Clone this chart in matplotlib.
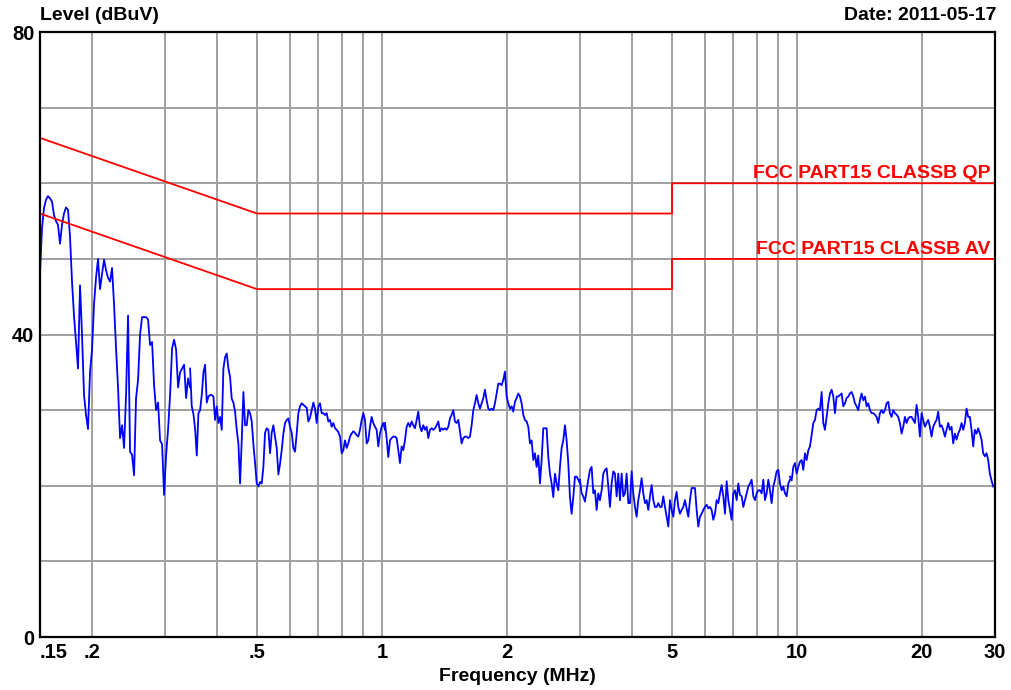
"""EMI conducted emission scan (0.15-30 MHz) against FCC Part 15 class B limits."""

import matplotlib

matplotlib.use("Agg")
import matplotlib.pyplot as plt
import numpy as np
from matplotlib.ticker import FixedLocator, NullFormatter, NullLocator

plt.rcParams["font.family"] = ["Liberation Sans", "DejaVu Sans"]
plt.rcParams["font.weight"] = "bold"

# sweep is stored as five chunks, each on its own log-spaced grid
seg_edges_mhz = [0.15, 0.345, 1.017, 3.0, 9.62, 29.7]

levels_a = [
    48, 54, 56.7, 57.8, 58.3, 58, 57.6, 55.8, 55, 54.5, 52, 54.5, 56, 56.8, 56.5, 53,
    47, 42.5, 39, 35.5, 46.5, 40, 32, 29.4, 27.5, 35, 38, 44, 47.5, 50, 46, 48,
    49.9, 48.5, 47.5, 47, 48.8, 44, 38.2, 33, 26.3, 28, 25, 32, 42.5, 24.5, 24.1, 21.4,
    31.6, 34, 40, 42.3, 42.3, 42.3, 42, 38.6, 39, 33.3, 30, 31, 26, 25.5, 18.8, 24,
    27.5, 32, 38.2, 39.3, 38, 33, 35, 35.5, 36, 31.6, 34.2, 33,
]

levels_b = [
    35.5, 30.5, 29.5, 27.5, 24, 29.6, 30, 32, 35, 36, 31, 31.8, 32, 32, 31.8, 28.7,
    30.5, 28.3, 29.1, 27.4, 35.5, 37, 37.5, 35.5, 34.4, 31.5, 31, 29.8, 27.4, 25.6, 20.3, 26,
    32.4, 28, 28, 30, 29.6, 28.5, 25.5, 23, 20.3, 19.9, 20.5, 20.3, 22.5, 27, 27.6, 27.4,
    24.3, 27, 28, 26.5, 25, 21.5, 22.9, 24.7, 26.9, 28.3, 28.7, 28.9, 27.8, 27, 25, 24.5,
    26.9, 29.6, 30.5, 30.9, 30.7, 30.5, 30.3, 28.5, 29, 30, 31, 30.2, 28.3, 30.5, 30.9, 29.6,
    29.6, 29.35, 29.6, 28.5, 28.7, 27.8, 28.3, 27.6, 27.4, 27.1, 26.5, 24.3, 24.7, 26, 25, 25.6,
    26.5, 26.9, 27.2, 27, 26.7, 26.5, 27.4, 28.7, 29.6, 28.7, 25.6, 26, 27.8, 29.1, 28.3, 27.8,
    27.4, 25.2, 26.9, 27.8, 28.3, 27.4,
]

levels_c = [
    28.3, 26.3, 23.8, 26, 26.3, 26.5, 26.5, 26.3, 24.7, 23, 25.2, 24.7, 26, 27.8, 28.3, 27.8,
    28.5, 28, 27.6, 28.7, 29.8, 27.8, 27.2, 28, 27.4, 27.8, 26.3, 27.4, 27.6, 27.4, 27.6, 28,
    28.5, 27.2, 27.6, 27.4, 27.6, 27.4, 27.8, 28.9, 29.4, 30, 28.5, 28.3, 28.7, 27.2, 25.6, 26.3,
    26.5, 26.5, 26.3, 26.5, 28, 30, 30.9, 32, 30.9, 30.2, 30.9, 31.6, 32.7, 31.3, 30.2, 30,
    30.2, 30, 30.9, 32.2, 33.5, 33.5, 33.3, 34, 35.1, 31.8, 30.9, 30.2, 30.5, 29.8, 31.1, 31.6,
    32.2, 31.8, 30.9, 29.4, 28.7, 28.5, 27.8, 25.6, 26, 23.4, 24.3, 22.5, 24, 20.3, 23.4, 27.6,
    27.6, 27.6, 23.8, 21.6, 20.3, 18.5, 21.6, 20.3, 19.4, 22.5, 25, 26, 28, 26, 23, 18.5,
    16.3, 18.5, 21.2, 21.2, 20.8, 20.3,
]

levels_d = [
    20.8, 19, 18.6, 17.9, 19.4, 20.8, 22.1, 22.5, 19, 19.4, 16.8, 19, 18.1, 19.4, 21.6, 22.1,
    22.3, 19.9, 17.2, 20.3, 21.9, 21.6, 18.6, 21.6, 18.1, 21.6, 18.6, 19, 21.6, 17.7, 17.7, 21.9,
    19, 17.2, 15.9, 18.1, 19.4, 21, 19, 17.7, 18.1, 16.8, 18.6, 20.1, 18.1, 17.2, 17.2, 17.7,
    17.2, 17.2, 18.6, 17.2, 15.9, 14.6, 18.1, 16.8, 15.9, 18.1, 19.2, 17.2, 16.3, 16.8, 17.2, 18.1,
    17, 15.9, 18.1, 19.7, 19.7, 19.7, 16.8, 14.6, 15.9, 16.3, 16.8, 17.2, 17.5, 17, 17.2, 16.8,
    15.5, 16.3, 18.1, 17.7, 19, 20.1, 18.6, 16.3, 20.6, 18.1, 16.8, 15.5, 19, 19.4, 18.1, 20.3,
    18.8, 18.6, 17.2, 18.1, 19, 19.9, 20.3, 20.8, 18.6, 18.1, 19, 19.4, 19.4, 19, 20.8, 18.1,
    19, 20.8, 19.4, 17.7, 19.9, 20.8, 21.9, 22.1, 20.3, 19.4, 19.9, 19, 18.6, 20.3, 20.8,
]

levels_e = [
    21.2, 20.7, 22.5, 23, 21.6, 22.5, 23.2, 23.4, 22.1, 24.3, 23.4, 24.7, 25.2, 26.7, 28.3, 28.7,
    30, 30.2, 30, 32.4, 28.3, 27.4, 29.1, 30.9, 32.2, 32.7, 31.8, 29.6, 31.8, 31.8, 32, 32.2,
    30.5, 30.9, 31.6, 31.8, 32.2, 32.4, 31.8, 30.9, 30.5, 30, 31.3, 32.2, 31.3, 31.8, 30.5, 30.9,
    30, 29.6, 29.6, 29.4, 29.1, 28.3, 29.6, 30, 29.6, 30, 30.9, 31.1, 29.6, 29.1, 30, 29.6,
    29.4, 29.1, 28.3, 26.9, 27.8, 29.1, 28.3, 28.9, 29.1, 29.1, 28.7, 28.3, 30.7, 29.1, 26.5, 29.6,
    28.7, 27.8, 28.3, 28.7, 27.8, 26.5, 27.8, 28.3, 28.7, 29.8, 27.8, 28, 27.4, 26.5, 27.4, 28.3,
    27.4, 27.8, 25.6, 26.9, 26.1, 26.9, 27.4, 28.3, 27.4, 28.3, 30.2, 29.1, 29.1, 27.4, 25.2, 27.4,
    26.9, 27.6, 26.9, 26.1, 24.3, 23.9, 24.3, 23.4, 21.6, 20.7, 19.9,
]

# FCC Part 15 class B conducted limits
qp_freq = [0.15, 0.5, 0.5, 5, 5, 30]
qp_level = [66, 56, 56, 56, 60, 60]
av_freq = [0.15, 0.5, 0.5, 5, 5, 30]
av_level = [56, 46, 46, 46, 50, 50]

x_grid = [0.2, 0.3, 0.4, 0.5, 0.6, 0.7, 0.8, 0.9, 1, 2, 3, 4, 5, 6, 7, 8, 9, 10, 20]
x_ticks = [0.15, 0.2, 0.5, 1, 2, 5, 10, 20, 30]
x_ticklabels = [".15", ".2", ".5", "1", "2", "5", "10", "20", "30"]
y_grid = [10, 20, 30, 40, 50, 60, 70]
y_ticks = [0, 40, 80]

segments = [levels_a, levels_b, levels_c, levels_d, levels_e]

fig = plt.figure(figsize=(10.12, 6.9), dpi=100)
ax = fig.add_axes([0.0395, 0.0768, 0.9437, 0.8768])
ax.set_xscale("log")
ax.set_xlim(0.15, 30)
ax.set_ylim(0, 80)

grid_kw = dict(color="#a0a0a0", lw=1.4, zorder=1)
for gx in x_grid:
    ax.axvline(gx, **grid_kw)
for gy in y_grid:
    ax.axhline(gy, **grid_kw)

for i, lv in enumerate(segments):
    freqs = np.geomspace(seg_edges_mhz[i], seg_edges_mhz[i + 1], len(lv))
    ax.plot(freqs, lv, color="#0000ff", lw=1.3, zorder=3)

ax.plot(qp_freq, qp_level, color="#ff0000", lw=1.3, zorder=4)
ax.plot(av_freq, av_level, color="#ff0000", lw=1.3, zorder=4)
ax.text(29.3, 60.7, "FCC PART15 CLASSB QP", color="#ff0000", fontsize=14,
        fontweight="bold", ha="right", va="baseline")
ax.text(29.3, 50.7, "FCC PART15 CLASSB AV", color="#ff0000", fontsize=14,
        fontweight="bold", ha="right", va="baseline")

ax.xaxis.set_major_locator(FixedLocator(x_ticks))
ax.xaxis.set_minor_locator(NullLocator())
ax.xaxis.set_minor_formatter(NullFormatter())
ax.set_xticklabels(x_ticklabels)
ax.set_yticks(y_ticks)
ax.tick_params(length=0, labelsize=14.5, pad=4)
for lab in ax.get_xticklabels() + ax.get_yticklabels():
    lab.set_fontweight("bold")
ax.get_xticklabels()[0].set_horizontalalignment("left")
for sp in ax.spines.values():
    sp.set_linewidth(1.6)
    sp.set_color("black")
    sp.set_zorder(5)

fig.text(0.0395, 0.978, "Level (dBuV)", fontsize=14, fontweight="bold",
         ha="left", va="center")
fig.text(0.985, 0.978, "Date: 2011-05-17", fontsize=14, fontweight="bold",
         ha="right", va="center")
fig.text(0.511, 0.02, "Frequency (MHz)", fontsize=14, fontweight="bold",
         ha="center", va="center")

fig.savefig("out.png", dpi=100)
